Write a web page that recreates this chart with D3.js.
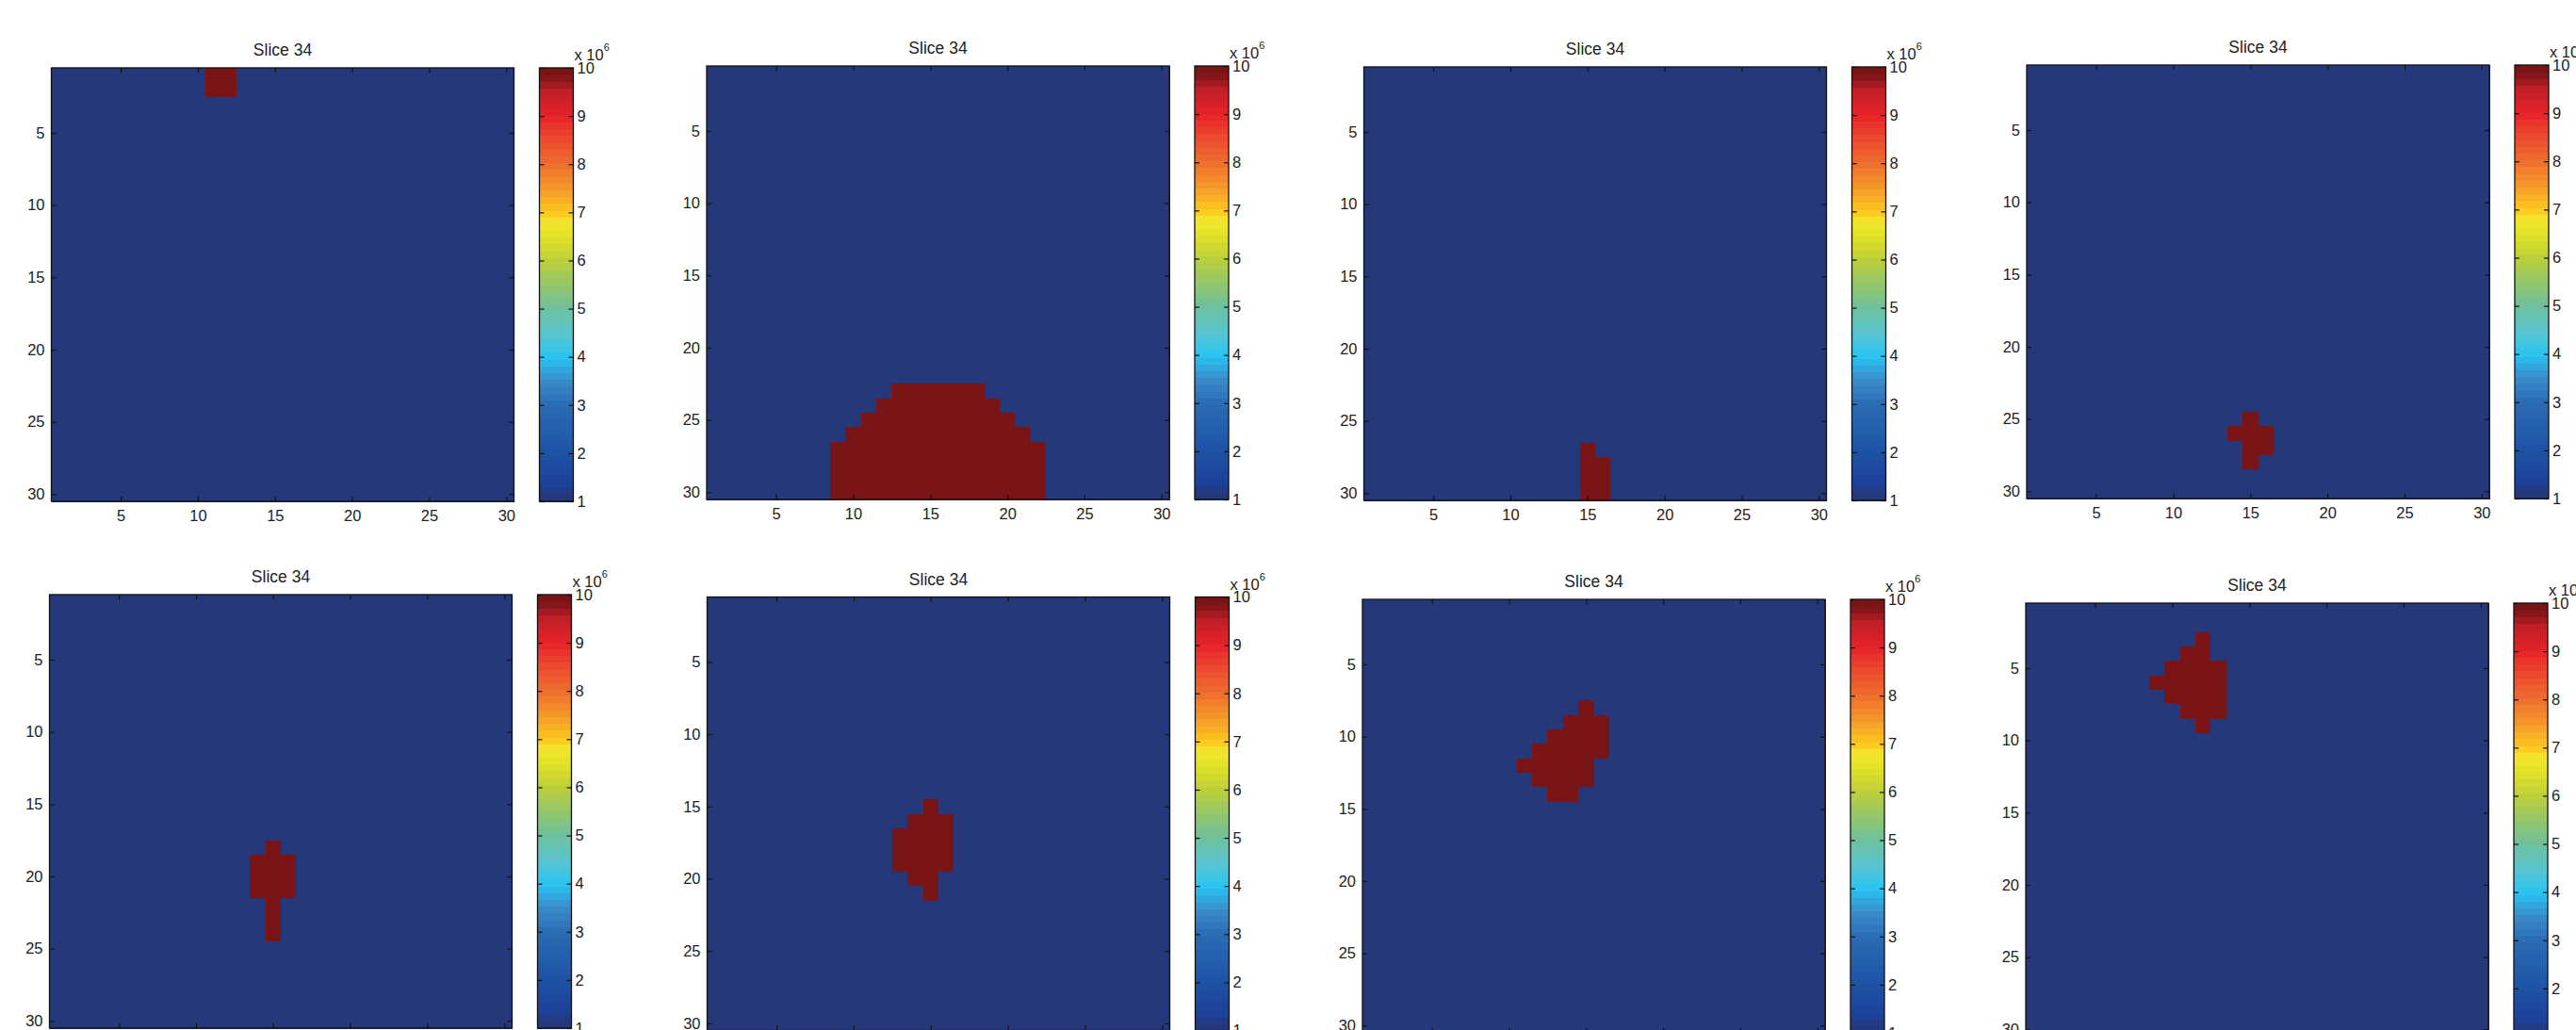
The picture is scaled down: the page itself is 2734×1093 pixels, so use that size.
<!DOCTYPE html>
<html>
<head>
<meta charset="utf-8">
<script src="https://cdn.jsdelivr.net/npm/d3@7"></script>
<style>
  html, body { margin: 0; padding: 0; background: #fff; }
  svg { display: block; }
</style>
</head>
<body>
<svg id="visualization" width="2734" height="1093"></svg>
<script>
// grid size and tick values
const gridSize = 30;
const axisTicks = [5, 10, 15, 20, 25, 30];
const colorbarTicks = [1, 2, 3, 4, 5, 6, 7, 8, 9, 10];
const lowValue = 1;   // x 10^6
const highValue = 10; // x 10^6
const titles = ["Slice 34", "Slice 34", "Slice 34", "Slice 34", "Slice 34", "Slice 34", "Slice 34", "Slice 34"];

// red cells of each slice: [row, firstCol, lastCol]
const slice1 = [[1, 11, 12], [2, 11, 12]];
const slice2 = [[23, 13, 18], [24, 12, 19], [25, 11, 20], [26, 10, 21], [27, 9, 22], [28, 9, 22], [29, 9, 22], [30, 9, 22]];
const slice3 = [[27, 15, 15], [28, 15, 16], [29, 15, 16], [30, 15, 16]];
const slice4 = [[25, 15, 15], [26, 14, 16], [27, 15, 16], [28, 15, 15]];
const slice5 = [[18, 15, 15], [19, 14, 16], [20, 14, 16], [21, 14, 16], [22, 15, 15], [23, 15, 15], [24, 15, 15]];
const slice6 = [[15, 15, 15], [16, 14, 16], [17, 13, 16], [18, 13, 16], [19, 13, 16], [20, 14, 15], [21, 15, 15]];
const slice7 = [[8, 15, 15], [9, 14, 16], [10, 13, 16], [11, 12, 16], [12, 11, 15], [13, 12, 15], [14, 13, 14]];
const slice8 = [[3, 12, 12], [4, 11, 12], [5, 10, 13], [6, 9, 13], [7, 10, 13], [8, 11, 13], [9, 12, 12]];
const slices = [slice1, slice2, slice3, slice4, slice5, slice6, slice7, slice8];

// colormap (jet as it appears in the picture)
const cmapValues = [1, 1.15, 1.3, 2, 2.5, 3, 3.5, 3.9, 4, 4.5, 5, 5.5, 6, 6.5, 6.8, 7, 7.5, 8, 8.5, 9, 9.5, 9.85, 10];
const cmapColors = ["#25387a", "#25387a", "#1d3f97", "#1e52a4", "#245fad", "#2a6bb3", "#3a8ccb", "#2cb8ea", "#2ac4ef",
    "#5bc4cf", "#6ec19e", "#92c66a", "#bccf3a", "#e2e226", "#f3e830", "#fdc91e", "#f5982a", "#ee6e2e",
    "#ec4b2f", "#e7232a", "#c21f27", "#791417", "#791417"];
const nLevels = 64;

// panel placement
const panelPos = [
    { left: 54.5, top: 72 }, { left: 750, top: 70 }, { left: 1447.5, top: 71 }, { left: 2151, top: 69 },
    { left: 52.5, top: 631 }, { left: 750.5, top: 633.5 }, { left: 1446, top: 636 }, { left: 2150, top: 640 }
];
const axW = 491;
const axH = 460;
const cbGap = 27;
const cbW = 36;
const fontFamily = '"Liberation Sans", Arial, sans-serif';

const cmap = d3.scaleLinear().domain(cmapValues).range(cmapColors).interpolate(d3.interpolateRgb);
const levelColor = v => {
    const k = Math.min(nLevels - 1, Math.floor((v - lowValue) / (highValue - lowValue) * nLevels));
    return cmap(lowValue + (k + 0.5) * (highValue - lowValue) / nLevels);
};

const buildGrid = runs => {
    const cells = [];
    for (let r = 1; r <= gridSize; r++) {
        for (let c = 1; c <= gridSize; c++) {
            const hit = runs.some(([row, c0, c1]) => row === r && c >= c0 && c <= c1);
            cells.push({ row: r, col: c, value: hit ? highValue : lowValue });
        }
    }
    return cells;
};

const styleAxis = (g, size) => {
    g.select(".domain").remove();
    g.selectAll("line").attr("stroke", "#111").attr("stroke-width", 1.2);
    g.selectAll("text").attr("font-family", fontFamily).attr("font-size", size).attr("fill", "#222");
};

const svg = d3.select("#visualization");

slices.forEach((runs, i) => {
    const pos = panelPos[i];
    const g = svg.append("g").attr("transform", `translate(${pos.left}, ${pos.top})`);

    const x = d3.scaleLinear().domain([0.5, gridSize + 0.5]).range([0, axW]);
    const y = d3.scaleLinear().domain([0.5, gridSize + 0.5]).range([0, axH]);

    // cells
    g.append("g")
        .attr("shape-rendering", "crispEdges")
        .selectAll("rect")
        .data(buildGrid(runs))
        .join("rect")
        .attr("x", d => x(d.col - 0.5))
        .attr("y", d => y(d.row - 0.5))
        .attr("width", x(1.5) - x(0.5) + 0.6)
        .attr("height", y(1.5) - y(0.5) + 0.6)
        .attr("fill", d => levelColor(d.value));

    // axes, ticks inward on all four sides
    g.append("g").attr("transform", `translate(0, ${axH})`)
        .call(d3.axisBottom(x).tickValues(axisTicks).tickSize(-5).tickPadding(9))
        .call(a => styleAxis(a, 16.5));
    g.append("g")
        .call(d3.axisTop(x).tickValues(axisTicks).tickSize(-5).tickFormat(""))
        .call(a => styleAxis(a, 16.5));
    g.append("g")
        .call(d3.axisLeft(y).tickValues(axisTicks).tickSize(-5).tickPadding(7))
        .call(a => styleAxis(a, 16.5));
    g.append("g").attr("transform", `translate(${axW}, 0)`)
        .call(d3.axisRight(y).tickValues(axisTicks).tickSize(-5).tickFormat(""))
        .call(a => styleAxis(a, 16.5));

    g.append("rect")
        .attr("width", axW).attr("height", axH)
        .attr("fill", "none").attr("stroke", "#111").attr("stroke-width", 1.3);

    // title
    g.append("text")
        .attr("x", axW / 2).attr("y", -13)
        .attr("text-anchor", "middle")
        .attr("font-family", fontFamily).attr("font-size", 17.5).attr("fill", "#222")
        .text(titles[i]);

    // colorbar
    const cb = g.append("g").attr("transform", `translate(${axW + cbGap}, 0)`);
    const cy = d3.scaleLinear().domain([lowValue, highValue]).range([axH, 0]);
    const levels = d3.range(nLevels).map(k => lowValue + k * (highValue - lowValue) / nLevels);
    const step = (highValue - lowValue) / nLevels;

    cb.append("g")
        .attr("shape-rendering", "crispEdges")
        .selectAll("rect")
        .data(levels)
        .join("rect")
        .attr("x", 0)
        .attr("y", d => cy(d + step))
        .attr("width", cbW)
        .attr("height", d => cy(d) - cy(d + step) + 0.6)
        .attr("fill", d => levelColor(d + step / 2));

    cb.append("g").attr("transform", `translate(${cbW}, 0)`)
        .call(d3.axisRight(cy).tickValues(colorbarTicks).tickSize(-5).tickPadding(4))
        .call(a => styleAxis(a, 16.5));
    cb.append("g")
        .call(d3.axisLeft(cy).tickValues(colorbarTicks).tickSize(-5).tickFormat(""))
        .call(a => styleAxis(a, 16.5));
    cb.append("rect")
        .attr("width", cbW).attr("height", axH)
        .attr("fill", "none").attr("stroke", "#111").attr("stroke-width", 1.3);

    const exp = cb.append("text")
        .attr("x", cbW + 1).attr("y", -8)
        .attr("font-family", fontFamily).attr("font-size", 16.5).attr("fill", "#222");
    exp.append("tspan").text("x 10");
    exp.append("tspan").attr("font-size", 11).attr("dy", -10).text("6");
});
</script>
</body>
</html>
